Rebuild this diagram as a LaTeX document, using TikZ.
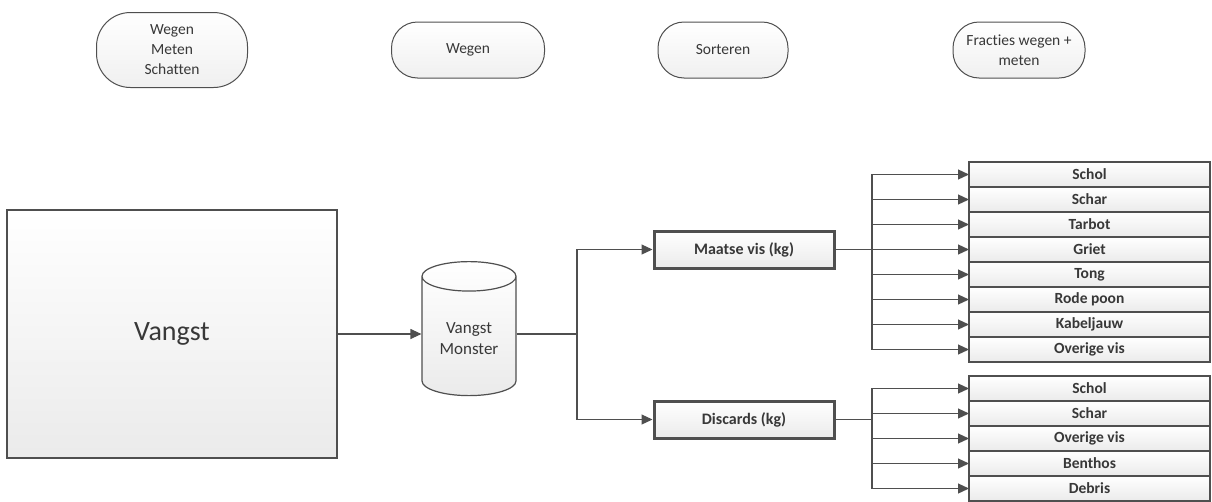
\documentclass[tikz,border=0pt]{standalone}
\usepackage{fontspec}
\setmainfont{Carlito}[Ligatures=NoCommon]
\usetikzlibrary{arrows.meta,positioning,shapes.geometric}
\definecolor{lijn}{HTML}{4F4F4F}
\definecolor{tekst}{HTML}{383838}

\begin{document}
\begin{tikzpicture}[x=1pt,y=-1pt, node distance=0pt,
 fase/.style={draw=lijn,line width=1pt,rounded corners=26pt,align=center,top color=white,bottom color=black!6,
   text=tekst,font=\fontsize{15.5}{20}\selectfont,minimum height=56pt},
 vak/.style={draw=lijn,line width=1.2pt,top color=white,bottom color=black!8,text=tekst},
 stroom/.style={vak,line width=3pt,minimum width=180pt,minimum height=37pt,font=\bfseries\fontsize{16}{19}\selectfont},
 soort/.style={vak,minimum width=241pt,minimum height=25pt,inner sep=0pt,outer sep=0pt,font=\bfseries\fontsize{15.5}{18}\selectfont},
 lijntje/.style={draw=lijn,line width=1.2pt},
 arr/.style={lijntje,-{Triangle[length=11pt,width=10pt]}}]
\useasboundingbox (0,0) rectangle (1212,501);
% fasen
\node[fase,minimum width=151pt,minimum height=75pt,rounded corners=34pt] (meten) at (172,50) {Wegen\\Meten\\Schatten};
\node[fase,minimum width=153pt] (wegen) at (468,50) {Wegen};
\node[fase,minimum width=130pt] (sorteren) at (723,50) {Sorteren};
\node[fase,minimum width=132pt,inner sep=1pt] (fracties) at (1019,50) {Fracties wegen +\\meten};
% vangst en monster
\node[vak,minimum width=330pt,minimum height=248pt,font=\fontsize{28}{32}\selectfont] (vangst) at (172,334) {Vangst};
\node[vak,cylinder,shape border rotate=90,aspect=0.45,minimum width=94pt,minimum height=134pt,align=center,
  font=\fontsize{17}{21}\selectfont] (monster) at (469,339) {Vangst\\Monster};
\node[stroom] (maatse) at (744,249.5) {Maatse vis (kg)};
\node[stroom] (discards) at (744,419.5) {Discards (kg)};
% maatse vis
\node[soort] (mSchol) at (1089.5,174.5) {Schol};
\node[soort,below=of mSchol] (mSchar) {Schar};
\node[soort,below=of mSchar] (mTarbot) {Tarbot};
\node[soort,below=of mTarbot] (mGriet) {Griet};
\node[soort,below=of mGriet] (mTong) {Tong};
\node[soort,below=of mTong] (mPoon) {Rode poon};
\node[soort,below=of mPoon] (mKabel) {Kabeljauw};
\node[soort,below=of mKabel] (mOverig) {Overige vis};
% discards
\node[soort] (dSchol) at (1089.5,388.5) {Schol};
\node[soort,below=of dSchol] (dSchar) {Schar};
\node[soort,below=of dSchar] (dOverig) {Overige vis};
\node[soort,below=of dOverig] (dBenthos) {Benthos};
\node[soort,below=of dBenthos] (dDebris) {Debris};
% verbindingen
\coordinate (split) at (577,334);
\coordinate (busM) at (872,249.5);
\coordinate (busD) at (872,419.5);
\draw[arr] (vangst.east) -- (vangst.east -| monster.west);
\draw[lijntje] (vangst.east -| monster.east) -- (split);
\draw[arr] (split) |- (maatse.west); \draw[arr] (split) |- (discards.west);
\draw[lijntje] (maatse.east) -- (busM); \draw[lijntje] (discards.east) -- (busD);
\draw[arr] (busM) |- (mSchol.west); \draw[arr] (busM) |- (mSchar.west); \draw[arr] (busM) |- (mTarbot.west);
\draw[arr] (busM) |- (mGriet.west); \draw[arr] (busM) |- (mTong.west); \draw[arr] (busM) |- (mPoon.west);
\draw[arr] (busM) |- (mKabel.west); \draw[arr] (busM) |- (mOverig.west);
\draw[arr] (busD) |- (dSchol.west); \draw[arr] (busD) |- (dSchar.west); \draw[arr] (busD) |- (dOverig.west);
\draw[arr] (busD) |- (dBenthos.west); \draw[arr] (busD) |- (dDebris.west);
\end{tikzpicture}
\end{document}
